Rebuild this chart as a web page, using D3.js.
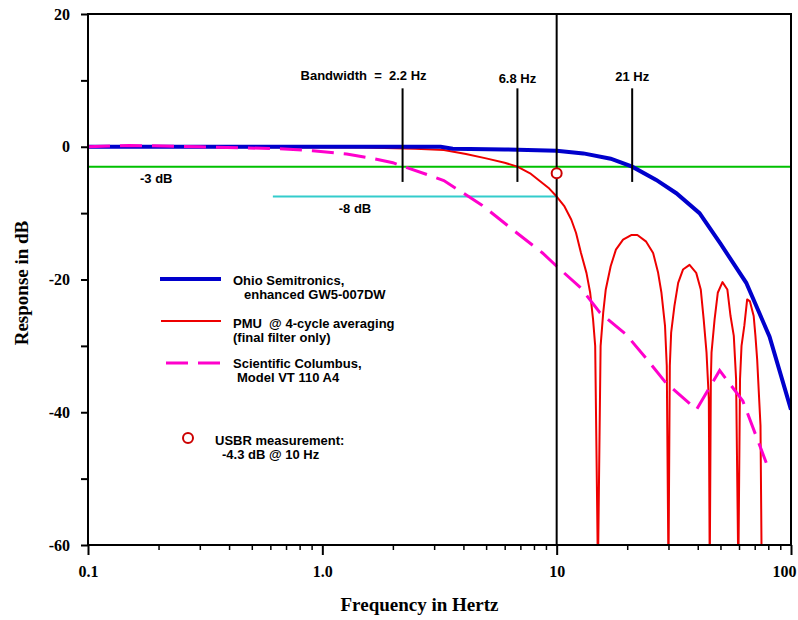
<!DOCTYPE html>
<html>
<head>
<meta charset="utf-8">
<script src="https://cdn.jsdelivr.net/npm/d3@7"></script>
<style>
  body { margin: 0; background: #fff; }
  svg { display: block; }
  .lbl { font-family: "Liberation Sans", Arial, sans-serif; font-weight: bold; font-size: 13px; fill: #000; white-space: pre; }
  .axis text { font-family: "Liberation Serif", "Times New Roman", serif; font-weight: bold; font-size: 16px; fill: #000; }
  .title { font-family: "Liberation Serif", "Times New Roman", serif; font-weight: bold; font-size: 19px; fill: #000; }
</style>
</head>
<body>
<div id="chart"></div>
<script>
// ---- data ----
// Ohio Semitronics, enhanced GW5-007DW
let ohioFreq = [0.1, 1, 3.2, 3.6, 6, 10, 13, 17, 21, 26.6, 32.4, 40.7, 50, 64.4, 81, 100];
let ohioDb = [0, 0, 0, -0.3, -0.4, -0.6, -1.0, -1.8, -3.0, -5.0, -7.0, -10.0, -14.6, -20.5, -28.6, -39.6];

// PMU @ 4-cycle averaging (final filter only)
let pmuFreq = [0.1, 1.5, 2.5, 3.3, 4.1, 5.0, 6.0, 6.8, 7.7, 8.5, 9.3, 10, 10.8, 11.55, 12.1, 12.7, 13.4, 13.9, 14.3, 14.6, 15.0,
  15.4, 15.8, 16.2, 17.0, 17.9, 19.2, 20.8, 22.1, 24.1, 25.8, 27.1, 28.0, 29.0, 29.5, 30.0,
  30.4, 30.8, 31.8, 33, 34.6, 36.9, 39.4, 41.2, 42.4, 43.6, 44.6, 45.0,
  45.5, 45.8, 47.2, 48.7, 51, 53.5, 55.2, 57, 58.3, 59.6,
  60.6, 61.5, 63.2, 65, 66.8, 69.3, 70.5, 71.7, 74.1, 75];
let pmuDb = [0, -0.1, -0.3, -0.5, -1.1, -1.75, -2.4, -3.0, -4.0, -5.2, -6.3, -7.5, -9.0, -11.0, -13, -16, -19, -22, -26, -30, -64,
  -30, -25, -21.5, -18, -15.5, -14, -13.3, -13.3, -14.3, -16, -19, -22, -27, -33, -64,
  -33, -28, -24, -20.5, -18.5, -17.8, -19, -21.5, -26, -31, -38, -64,
  -35, -31, -26, -22, -20.4, -21.5, -25.5, -28.5, -35, -64,
  -35, -30, -27, -23, -23.3, -25.5, -28.5, -32, -42, -64];

// Scientific Columbus, Model VT 110 A4
let scFreq = [0.1, 0.15, 0.3, 0.66, 0.91, 1.27, 1.6, 2.0, 2.13, 2.97, 3.3, 4.8, 6.5, 8.7, 10, 12.7, 15.3, 19.8, 24.0, 29.3, 39.5, 49.6, 62.3, 78.4];
let scDb = [0, 0.2, 0, -0.3, -0.6, -1.1, -1.7, -2.4, -2.75, -4.5, -5.1, -8.8, -12.5, -16, -18, -21.3, -25, -28.3, -31.8, -35.6, -39.6, -33.7, -38.3, -47.6];

// bandwidth markers
let bwFreq = [2.2, 6.8, 21];
let bwLabels = ["Bandwidth  =  2.2 Hz", "6.8 Hz", "21 Hz"];

// USBR measurement point
let usbrFreq = 10;
let usbrDb = -4.0;

// tick values
let xMajor = [0.1, 1, 10, 100];
let xMajorLabels = ["0.1", "1.0", "10", "100"];
let yTicks = [-60, -50, -40, -30, -20, -10, 0, 10, 20];

let width = 798;
let height = 620;
let plotLeft = 88, plotRight = 791, plotTop = 14, plotBottom = 545;

let svg = d3.select("#chart").append("svg")
  .attr("width", width)
  .attr("height", height);

let x = d3.scaleLog().domain([0.1, 100]).range([plotLeft, plotRight]);
let y = d3.scaleLinear().domain([-60, 20]).range([plotBottom, plotTop]);

svg.append("clipPath").attr("id", "plotclip")
  .append("rect")
  .attr("x", plotLeft).attr("y", plotTop)
  .attr("width", plotRight - plotLeft).attr("height", plotBottom - plotTop);

// axes
let xMinor = [];
[0.1, 1, 10].forEach(function(d) {
  for (let k = 2; k <= 9; k++) xMinor.push(d * k);
});

let xAxis = svg.append("g").attr("class", "axis")
  .attr("transform", "translate(0," + plotBottom + ")")
  .call(d3.axisBottom(x).tickValues(xMajor).tickSize(10)
    .tickFormat(function(d, i) { return xMajorLabels[i]; }));
xAxis.select(".domain").remove();
xAxis.selectAll("line").attr("stroke-width", 2);
xAxis.selectAll("text").attr("y", 32).attr("dy", null)
  .attr("x", function(d) { return d === 100 ? -7 : 0; });

let xMinorAxis = svg.append("g").attr("class", "axis")
  .attr("transform", "translate(0," + plotBottom + ")")
  .call(d3.axisBottom(x).tickValues(xMinor).tickSize(5).tickFormat(""));
xMinorAxis.select(".domain").remove();
xMinorAxis.selectAll("line").attr("stroke-width", 1.5);

let yAxis = svg.append("g").attr("class", "axis")
  .attr("transform", "translate(" + plotLeft + ",0)")
  .call(d3.axisLeft(y).tickValues(yTicks).tickSize(7).tickPadding(11)
    .tickFormat(function(d) { return d % 20 === 0 ? String(d) : ""; }));
yAxis.select(".domain").remove();
yAxis.selectAll("line").attr("stroke-width", 2);

// axis titles
svg.append("text").attr("class", "title")
  .attr("x", (plotLeft + plotRight) / 2 - 20).attr("y", 611)
  .attr("text-anchor", "middle")
  .text("Frequency in Hertz");

svg.append("text").attr("class", "title")
  .attr("transform", "translate(28,283) rotate(-90)")
  .attr("text-anchor", "middle")
  .text("Response in dB");

let plot = svg.append("g").attr("clip-path", "url(#plotclip)");

// -3 dB and -8 dB reference lines
plot.append("line")
  .attr("x1", plotLeft).attr("x2", plotRight)
  .attr("y1", y(-3)).attr("y2", y(-3))
  .attr("stroke", "#00c000").attr("stroke-width", 2);

plot.append("line")
  .attr("x1", x(0.615)).attr("x2", x(9.9))
  .attr("y1", y(-7.5)).attr("y2", y(-7.5))
  .attr("stroke", "#33cccc").attr("stroke-width", 2);

let line = d3.line()
  .x(function(d) { return x(d[0]); })
  .y(function(d) { return y(d[1]); });

// PMU
plot.append("path")
  .datum(d3.zip(pmuFreq, pmuDb))
  .attr("d", line)
  .attr("fill", "none").attr("stroke", "#ee0000").attr("stroke-width", 2)
  .attr("stroke-linejoin", "round");

// Ohio Semitronics
plot.append("path")
  .datum(d3.zip(ohioFreq, ohioDb))
  .attr("d", line)
  .attr("fill", "none").attr("stroke", "#0000cc").attr("stroke-width", 4);

// Scientific Columbus
plot.append("path")
  .datum(d3.zip(scFreq, scDb))
  .attr("d", line)
  .attr("fill", "none").attr("stroke", "#ff00cc").attr("stroke-width", 3)
  .attr("stroke-dasharray", "22,10");

// 10 Hz marker line
svg.append("line")
  .attr("x1", x(10)).attr("x2", x(10))
  .attr("y1", plotTop).attr("y2", plotBottom)
  .attr("stroke", "#000").attr("stroke-width", 2);

// bandwidth markers
svg.selectAll(".bw").data(bwFreq).enter().append("line")
  .attr("class", "bw")
  .attr("x1", function(d) { return x(d); })
  .attr("x2", function(d) { return x(d); })
  .attr("y1", y(8.8)).attr("y2", y(-5.3))
  .attr("stroke", "#000").attr("stroke-width", 2);

svg.selectAll(".bwlbl").data(bwFreq).enter().append("text")
  .attr("class", "lbl bwlbl")
  .attr("x", function(d, i) { return i === 0 ? x(d) + 24 : x(d); })
  .attr("y", function(d, i) { return [80, 83, 81][i]; })
  .attr("text-anchor", function(d, i) { return i === 0 ? "end" : "middle"; })
  .text(function(d, i) { return bwLabels[i]; });

// USBR point
svg.append("circle")
  .attr("cx", x(usbrFreq)).attr("cy", y(usbrDb)).attr("r", 5)
  .attr("fill", "#fff").attr("stroke", "#cc0000").attr("stroke-width", 2);

// frame
svg.append("rect")
  .attr("x", plotLeft).attr("y", plotTop)
  .attr("width", plotRight - plotLeft).attr("height", plotBottom - plotTop)
  .attr("fill", "none").attr("stroke", "#000").attr("stroke-width", 2);

// reference line labels
svg.append("text").attr("class", "lbl").attr("x", 140).attr("y", 183).text("-3 dB");
svg.append("text").attr("class", "lbl").attr("x", 355).attr("y", 213)
  .attr("text-anchor", "middle").text("-8 dB");

// legend
let legend = svg.append("g");
legend.append("line").attr("x1", 160).attr("x2", 221).attr("y1", 279).attr("y2", 279)
  .attr("stroke", "#0000cc").attr("stroke-width", 4);
legend.append("text").attr("class", "lbl").attr("x", 233).attr("y", 285).text("Ohio Semitronics,");
legend.append("text").attr("class", "lbl").attr("x", 244).attr("y", 299).text("enhanced GW5-007DW");

legend.append("line").attr("x1", 161).attr("x2", 221).attr("y1", 321).attr("y2", 321)
  .attr("stroke", "#ee0000").attr("stroke-width", 2);
legend.append("text").attr("class", "lbl").attr("x", 233).attr("y", 328).text("PMU  @ 4-cycle averaging");
legend.append("text").attr("class", "lbl").attr("x", 233).attr("y", 342).text("(final filter only)");

legend.append("line").attr("x1", 166).attr("x2", 220).attr("y1", 363).attr("y2", 363)
  .attr("stroke", "#ff00cc").attr("stroke-width", 3).attr("stroke-dasharray", "22,10");
legend.append("text").attr("class", "lbl").attr("x", 233).attr("y", 368).text("Scientific Columbus,");
legend.append("text").attr("class", "lbl").attr("x", 237).attr("y", 382).text("Model VT 110 A4");

legend.append("circle").attr("cx", 188).attr("cy", 438).attr("r", 5)
  .attr("fill", "#fff").attr("stroke", "#cc0000").attr("stroke-width", 2);
legend.append("text").attr("class", "lbl").attr("x", 215).attr("y", 445).text("USBR measurement:");
legend.append("text").attr("class", "lbl").attr("x", 222).attr("y", 459).text("-4.3 dB @ 10 Hz");
</script>
</body>
</html>
